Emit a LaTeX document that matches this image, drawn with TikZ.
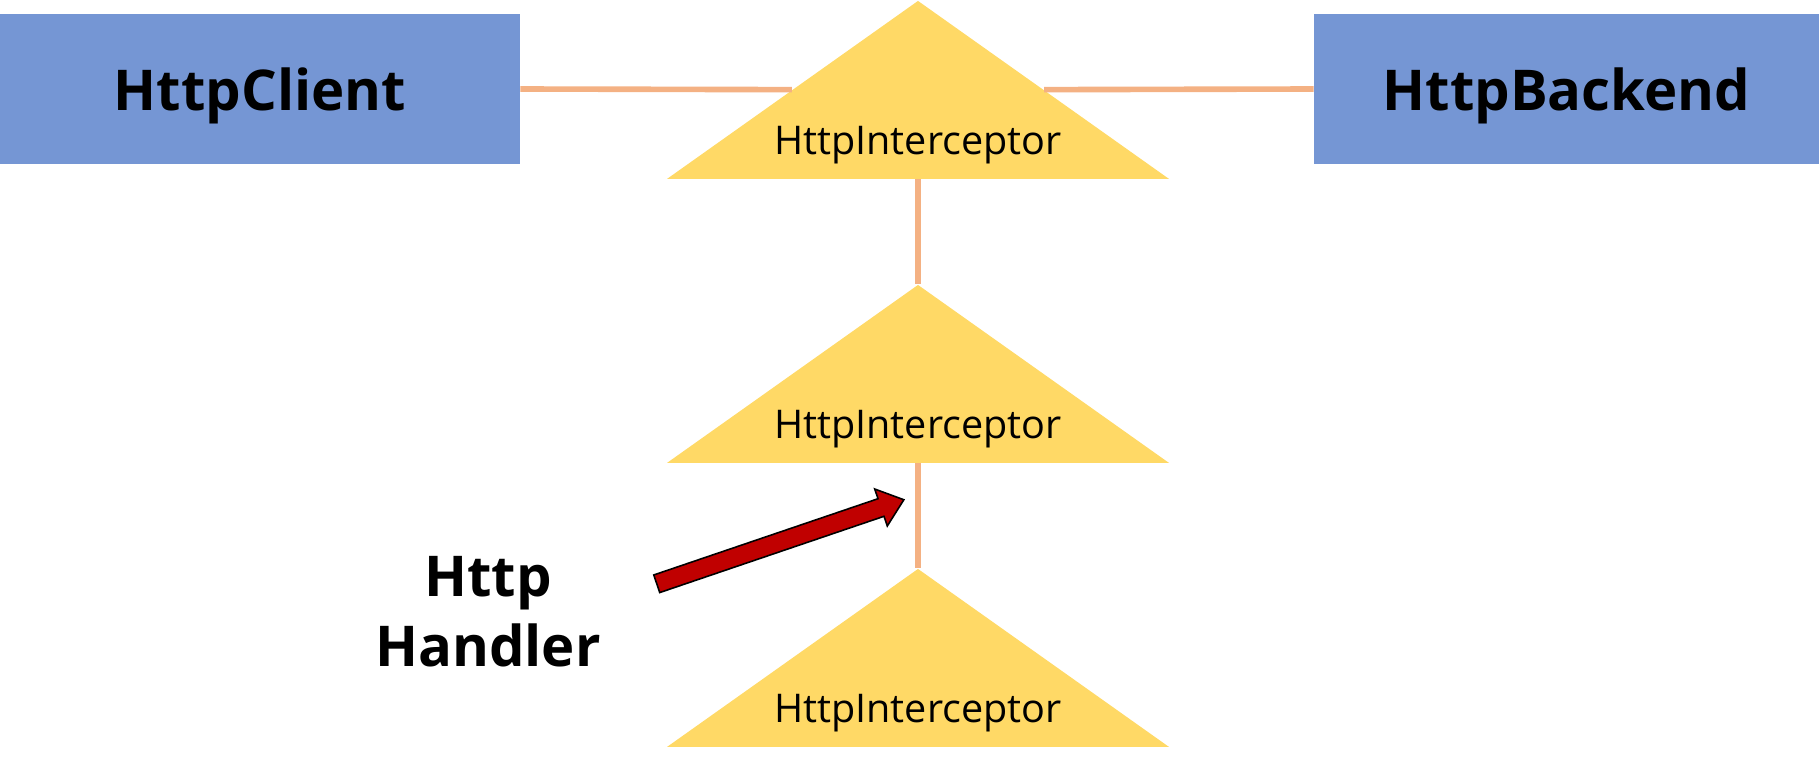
\documentclass[tikz,border=0pt]{standalone}
\usepackage{fontspec}
\setmainfont{Open Sans}
\usepackage{xcolor}
\usetikzlibrary{shapes,arrows,positioning}

\definecolor{boxblue}{HTML}{7596D4}
\definecolor{gategold}{HTML}{FFD966}
\definecolor{linkorange}{HTML}{F4B183}
\definecolor{arrowred}{HTML}{C00000}

\begin{document}
\begin{tikzpicture}[node distance=5.68cm, auto,
    block/.style={rectangle, fill=boxblue, minimum height=3cm, inner sep=0pt, text depth=0pt, font=\fontsize{32}{38}\selectfont\bfseries},
    gate/.style={isosceles triangle, isosceles triangle stretches, shape border rotate=90, fill=gategold, minimum width=10.04cm, minimum height=3.56cm, inner sep=0pt},
    gatetext/.style={anchor=base, inner sep=0pt, font=\fontsize{22.5}{27}\selectfont},
    link/.style={draw=linkorange, line width=3.2pt},
    handarrow/.style={single arrow, draw=black, line width=0.9pt, fill=arrowred, minimum height=5.22cm, inner xsep=0pt, inner ysep=0.17cm, single arrow head extend=0.205cm, single arrow tip angle=78}]

    \useasboundingbox (0,0) rectangle (36.38,-15.26);

    \node[block, minimum width=10.4cm] (client) at (5.2,-1.78) {HttpClient};
    \node[block, minimum width=10.1cm, right of=client, node distance=26.13cm] (backend) {HttpBackend};

    \node[gate, anchor=apex] (gate1) at (18.36,0) {};
    \node[gate, below of=gate1] (gate2) {};
    \node[gate, below of=gate2] (gate3) {};
    \node[gatetext] (gatelabel1) at ([yshift=0.5cm]gate1.lower side) {HttpInterceptor};
    \node[gatetext] (gatelabel2) at ([yshift=0.5cm]gate2.lower side) {HttpInterceptor};
    \node[gatetext] (gatelabel3) at ([yshift=0.5cm]gate3.lower side) {HttpInterceptor};

    \draw[link] (client.east) -- (gate1.left side);
    \draw[link] (gate1.right side) -- (backend.west);
    \draw[link] (gate1.lower side) -- (gate2.apex);
    \draw[link] (gate2.lower side) -- (gate3.apex);

    \node[align=center, font=\fontsize{32}{39.7}\selectfont\bfseries] (handler) at (9.76,-12.23) {Http\\Handler};
    \node[handarrow, rotate=18.78, anchor=tail] (handlerarrow) at (13.12,-11.68) {};
\end{tikzpicture}
\end{document}
